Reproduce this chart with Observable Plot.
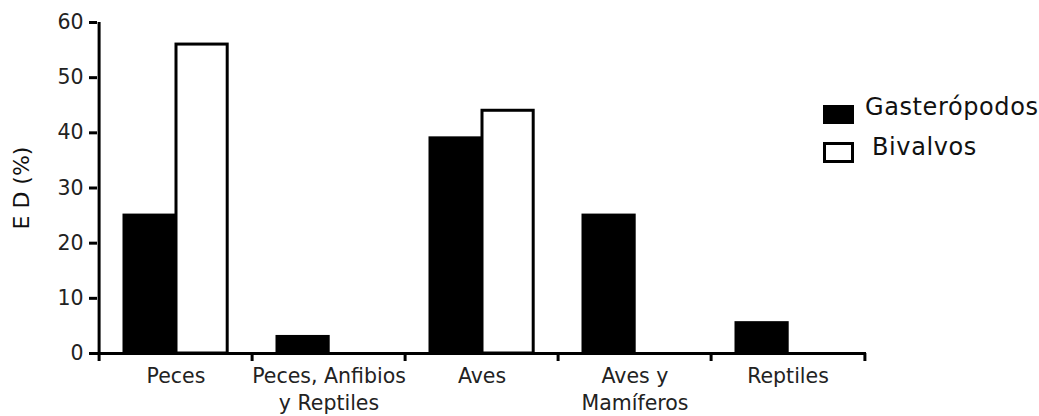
<!DOCTYPE html>
<html>
<head>
<meta charset="utf-8">
<script src="https://cdn.jsdelivr.net/npm/d3@7"></script>
<script src="https://cdn.jsdelivr.net/npm/@observablehq/plot@0.6"></script>
<style>
  html, body { margin: 0; padding: 0; background: #fff; }
  #wrap { position: relative; width: 1039px; height: 416px; overflow: hidden; font-family: "DejaVu Sans", Verdana, sans-serif; }
  #wrap svg { font-family: "DejaVu Sans", Verdana, sans-serif; }
  #wrap svg [aria-label="y-axis tick label"] text { font-size: 20.5px; fill: #222; }
  #wrap svg [aria-label="x-axis tick label"] text { font-size: 20.5px; fill: #222; }
  #wrap svg [aria-label="y-axis label"] text { font-size: 22px; fill: #111; }
  .legend { position: absolute; left: 823px; top: 95px; }
  .sw { position: absolute; left: 0; width: 31px; box-sizing: border-box; border: 3px solid #000; }
  .lab { position: absolute; font-size: 24px; letter-spacing: 0.6px; color: #111; line-height: 24px; white-space: nowrap; }
</style>
</head>
<body>
<div id="wrap"></div>
<script>
const categories = ["Peces", "Peces, Anfibios\ny Reptiles", "Aves", "Aves y\nMamíferos", "Reptiles"];
const series = ["Gasterópodos", "Bivalvos"];
const seriesFill = ["#000", "#fff"];
const gasteropodos = [25, 3, 39, 25, 5.5];
const bivalvos = [56, 0, 44, 0, 0];
const yTicks = [0, 10, 20, 30, 40, 50, 60];

const rowsG = categories.map((c, i) => ({cat: c, series: series[0], value: gasteropodos[i]}));
const rowsB = categories.map((c, i) => ({cat: c, series: series[1], value: bivalvos[i]}));

const W = 1039, H = 416, mL = 97, mR = 173;
const step = (W - mL - mR) / categories.length;

const chart = Plot.plot({
  width: W,
  height: H,
  marginLeft: mL,
  marginRight: mR,
  marginTop: 22,
  marginBottom: 63,
  style: {fontFamily: "DejaVu Sans, Verdana, sans-serif", color: "#111", background: "#fff"},
  x: {domain: categories, padding: 0},
  y: {domain: [0, 60]},
  marks: [
    Plot.barY(rowsG, {x: "cat", y: "value", fill: seriesFill[0], stroke: "#000", strokeWidth: 3,
      insetLeft: 25, insetRight: step - 77}),
    Plot.barY(rowsB, {x: "cat", y: "value", fill: seriesFill[1], stroke: "#000", strokeWidth: 3,
      insetLeft: 77, insetRight: step - 129}),
    Plot.ruleY([0], {stroke: "#000", strokeWidth: 3}),
    Plot.ruleX([categories[0]], {y1: 0, y2: 60, dx: -step / 2, stroke: "#000", strokeWidth: 3}),
    Plot.axisY({ticks: yTicks, tickSize: 8, tickPadding: 6, strokeWidth: 3, stroke: "#000",
      label: "E D (%)", labelAnchor: "center", labelArrow: "none", labelOffset: 84}),
    Plot.axisX({tickSize: 0, tickPadding: 10, lineHeight: 1.32, label: null}),
    Plot.axisX(categories, {tickSize: 8, strokeWidth: 3, stroke: "#000", tickFormat: () => "", dx: -step / 2, label: null}),
    Plot.axisX([categories[categories.length - 1]], {tickSize: 8, strokeWidth: 3, stroke: "#000", tickFormat: () => "", dx: step / 2, label: null})
  ]
});
const wrap = document.getElementById("wrap");
wrap.appendChild(chart);

const legend = document.createElement("div");
legend.className = "legend";
const swTop = [10, 47], swH = [19, 21], labTop = [0, 40], labLeft = [42, 49];
series.forEach((s, i) => {
  const sw = document.createElement("div");
  sw.className = "sw";
  sw.style.top = swTop[i] + "px";
  sw.style.height = swH[i] + "px";
  sw.style.background = seriesFill[i];
  const lab = document.createElement("span");
  lab.className = "lab";
  lab.style.top = labTop[i] + "px";
  lab.style.left = labLeft[i] + "px";
  lab.textContent = s;
  legend.appendChild(sw);
  legend.appendChild(lab);
});
wrap.appendChild(legend);
</script>
</body>
</html>
